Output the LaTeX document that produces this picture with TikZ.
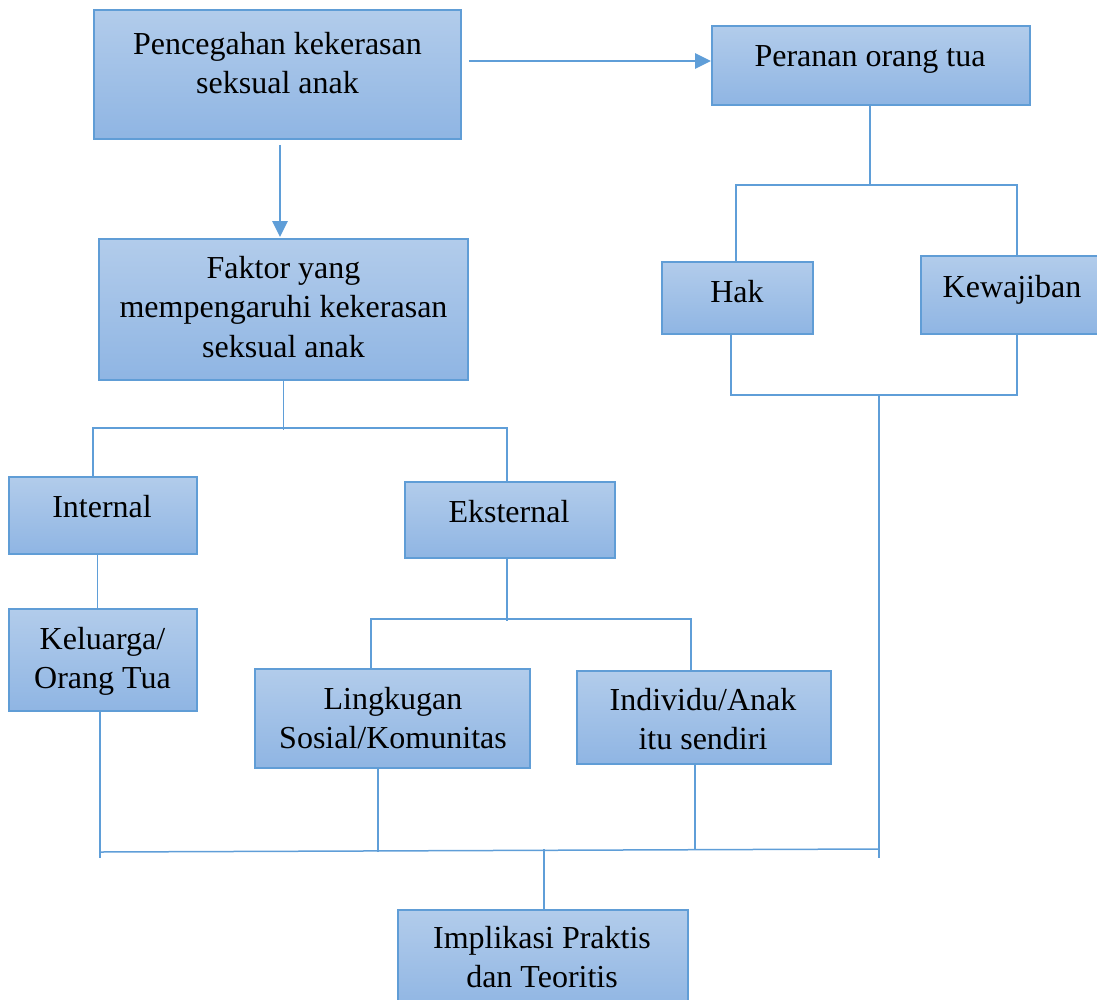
\documentclass[tikz,border=0pt]{standalone}
\usepackage{fontspec}
\setmainfont{Liberation Serif}
\usetikzlibrary{calc,arrows.meta}
\definecolor{boxtop}{RGB}{178,204,235}
\definecolor{boxbot}{RGB}{143,181,227}
\definecolor{boxline}{RGB}{96,157,214}
\definecolor{conn}{RGB}{95,158,216}
\tikzset{
  blue box/.style={rectangle, draw=boxline, line width=1.8pt, top color=boxtop, bottom color=boxbot, inner sep=0pt},
  label text/.style={anchor=base, inner sep=0pt, font=\fontsize{32}{39.5}\selectfont},
  conn line/.style={draw=conn, line width=1.5pt},
  conn arrow/.style={draw=conn, line width=2.6pt, -{Triangle[length=16pt,width=15pt]}}
}
\newcommand{\lines}[1]{\begin{tabular}[t]{@{}c@{}}#1\end{tabular}}
\begin{document}
\begin{tikzpicture}[x=1pt,y=-1pt]
\useasboundingbox (0,0) rectangle (1097,999);
\clip (0,0) rectangle (1097,999);
% boxes
\node[blue box, minimum width=367pt, minimum height=129pt] (b1) at (277.5,74.5) {};
\node[blue box, minimum width=318pt, minimum height=79pt] (b2) at (871,65.5) {};
\node[blue box, minimum width=369pt, minimum height=141pt] (b3) at (283.5,309.5) {};
\node[blue box, minimum width=151pt, minimum height=72pt] (b4) at (737.5,298) {};
\node[blue box, minimum width=182pt, minimum height=78pt] (b5) at (1012,295) {};
\node[blue box, minimum width=188pt, minimum height=77pt] (b6) at (103,515.5) {};
\node[blue box, minimum width=210pt, minimum height=76pt] (b7) at (510,520) {};
\node[blue box, minimum width=188pt, minimum height=102pt] (b8) at (103,660) {};
\node[blue box, minimum width=275pt, minimum height=99pt] (b9) at (392.5,718.5) {};
\node[blue box, minimum width=254pt, minimum height=93pt] (b10) at (704,717.5) {};
\node[blue box, minimum width=290pt, minimum height=100pt] (b11) at (543,960) {};
% texts
\node[label text] (t1) at (277.5,54) {\lines{Pencegahan kekerasan\\seksual anak}};
\node[label text] (t2) at (870,66) {\lines{Peranan orang tua}};
\node[label text] (t3) at (283.5,278) {\lines{Faktor yang\\mempengaruhi kekerasan\\seksual anak}};
\node[label text] (t4) at (737,302) {\lines{Hak}};
\node[label text] (t5) at (1012,297) {\lines{Kewajiban}};
\node[label text] (t6) at (102,517) {\lines{Internal}};
\node[label text] (t7) at (509,522) {\lines{Eksternal}};
\node[label text] (t8) at (102.5,649) {\lines{Keluarga/\\Orang Tua}};
\node[label text] (t9) at (393,709) {\lines{Lingkugan\\Sosial/Komunitas}};
\node[label text] (t10) at (703,710) {\lines{Individu/Anak\\itu sendiri}};
\node[label text] (t11) at (542,948) {\lines{Implikasi Praktis\\dan Teoritis}};
% arrows
\draw[conn arrow] ($(b1.east)+(7,-13.5)$) -- ($(b2.west)+(0,-4.5)$);
\draw[conn arrow] ($(b1.south)+(2.5,5)$) -- ($(b3.north)+(-3.5,-1)$);
% Faktor tree
\draw[conn line] (b3.south) -- ++(0,49);
\draw[conn line] ($(b6.north)+(-10,0)$) |- ($(b7.north)+(-3,-53)$) -- ($(b7.north)+(-3,0)$);
\draw[conn line] ($(b6.south)+(-5.5,0)$) -- ($(b8.north)+(-5.5,0)$);
% Eksternal tree
\draw[conn line] ($(b7.south)+(-3,0)$) -- ++(0,62);
\draw[conn line] ($(b9.north)+(-21.5,0)$) |- ($(b10.north)+(-13,-51)$) -- ($(b10.north)+(-13,0)$);
% Peranan tree
\draw[conn line] ($(b2.south)+(-1,0)$) -- ++(0,78);
\draw[conn line] ($(b4.north)+(-1.5,0)$) |- ($(b5.north)+(5,-70)$) -- ($(b5.north)+(5,0)$);
\draw[conn line] ($(b4.south)+(-6.5,0)$) |- ($(b5.south)+(5,60)$) -- ($(b5.south)+(5,0)$);
\coordinate (jr) at (879,394);
\coordinate (jrb) at (879,858);
\draw[conn line] (jr) -- (jrb);
% bottom collector
\coordinate (bl) at (100,852);
\coordinate (br) at (879,849);
\draw[conn line] (bl) -- (br);
\draw[conn line] ($(b8.south)+(-3,0)$) -- ++(0,146);
\draw[conn line] ($(b9.south)+(-14.5,0)$) -- ++(0,83);
\draw[conn line] ($(b10.south)+(-9,0)$) -- ++(0,85);
\draw[conn line] ($(b11.north)+(1,0)$) -- ++(0,-60);
\end{tikzpicture}
\end{document}
